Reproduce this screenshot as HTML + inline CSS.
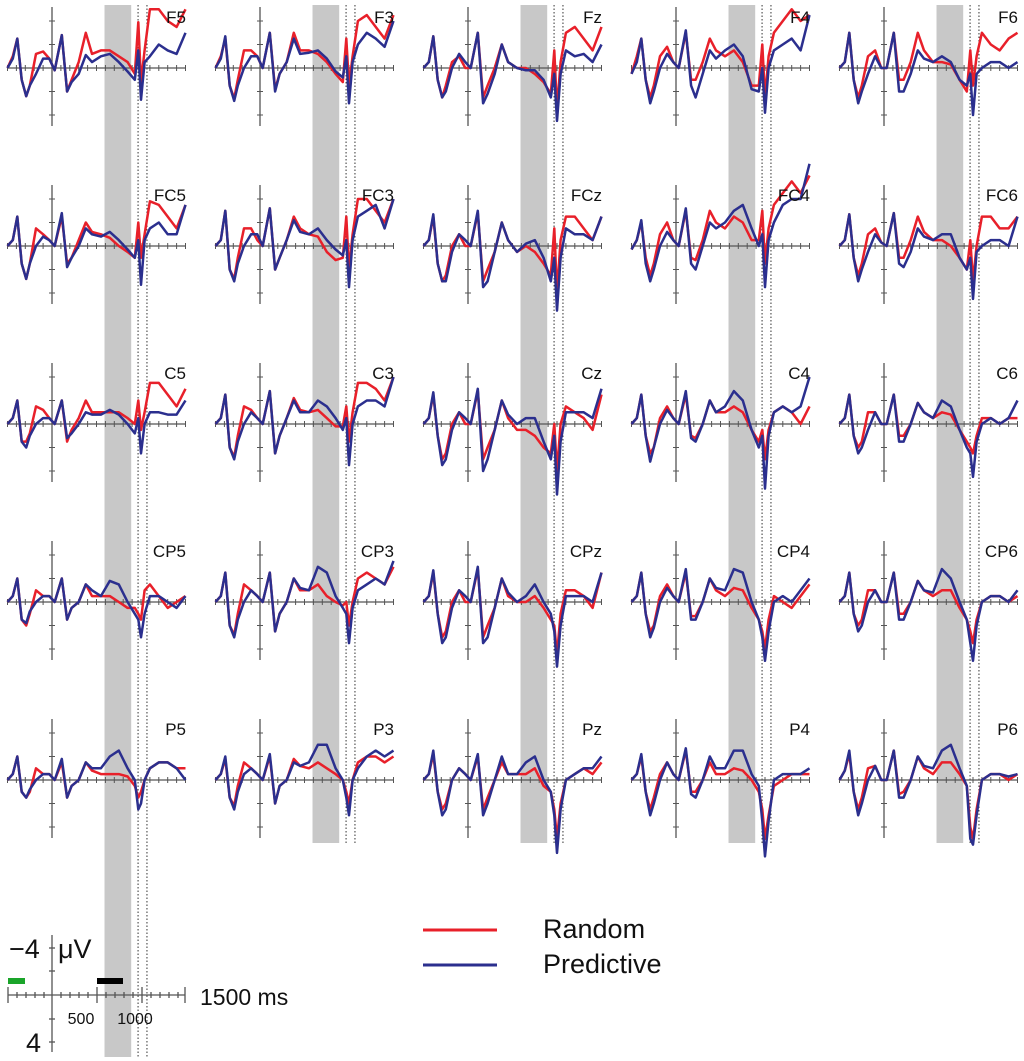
<!DOCTYPE html>
<html><head><meta charset="utf-8"><style>
html,body{margin:0;padding:0;background:#fff}
svg{display:block;font-family:"Liberation Sans",sans-serif}
</style></head><body>
<svg id="chart" width="1024" height="1061" viewBox="0 0 1024 1061" xmlns="http://www.w3.org/2000/svg"></svg>
<script>
const times=[-500,-440,-390,-340,-290,-250,-180,-100,-30,30,110,170,220,300,380,450,550,650,750,850,930,970,1000,1040,1100,1200,1300,1400,1500];
const channels=[["F5","F3","Fz","F4","F6"],["FC5","FC3","FCz","FC4","FC6"],["C5","C3","Cz","C4","C6"],["CP5","CP3","CPz","CP4","CP6"],["P5","P3","Pz","P4","P6"]];
const randomF5=[0,-1,-2.5,1,2.4,1.5,-1.2,-1.4,-0.8,0.2,-2.8,2,1,-0.5,-3,-1.2,-1.5,-1.5,-1,-0.5,0.5,-3.9,1.2,-1.5,-5,-5,-4,-3.5,-5];
const predictiveF5=[0,-0.8,-2.5,1,2.4,1.5,0.5,-0.8,-0.8,0.2,-2.8,2,1.2,0.5,-1.1,-0.5,-1,-1.2,-0.5,0.3,1,-1.5,2.7,-0.5,-1,-2,-1.5,-1.2,-3];
const randomF3=[0,-1,-2.5,1.5,2.6,1,-1.5,-1.5,-1,0,-3,1.8,0.5,-0.5,-3,-1.5,-1.5,-1.2,-0.5,0.5,1.2,-2.5,1.5,-1,-4,-4.5,-3.5,-2.5,-4.5];
const predictiveF3=[0,-0.8,-2.7,1.5,2.8,1.5,0,-1,-1,0,-3,2,0.5,-0.5,-2.5,-1.2,-1.3,-1.5,-0.8,0.3,0.8,-1,3,-0.5,-2,-3,-2.5,-1.8,-4];
const randomFz=[0,-0.5,-2.7,1,2.5,1.5,-0.5,-1,0,0,-3,2.5,1.5,0,-2,-0.5,0,0,0.5,1.2,2.2,-1.5,3.5,-0.5,-3,-3.5,-2.5,-1.5,-3.5];
const predictiveFz=[0,-0.5,-2.7,1,2.5,2,0,-1.2,-0.5,0,-3,3,2.2,0.5,-2,-0.5,0,0.2,0.2,1,2.5,0.5,4.5,0.5,-1.5,-1,-1.2,-0.5,-2];
const randomF4=[0.5,-1,-2.5,1,2.5,1.5,-1,-1.8,-0.5,0,-3,1,1,-0.5,-2.5,-1.5,-1,-1.5,-0.5,1.5,1.5,-2,2.5,-1,-3,-4,-5,-4,-4.5];
const predictiveF4=[0.5,-0.5,-2.5,1,3,2,0,-1.2,-0.5,0,-3.2,1.5,2.5,0.5,-1.5,-0.8,-1.5,-2,-1,1.8,2,0,3.8,0,-1.5,-2,-2.5,-1.5,-4.5];
const randomF6=[0,-0.5,-3,1,2.5,1.5,-1,-1.5,0,0,-3,1,1,-0.5,-3,-1.5,-0.5,-0.5,-0.3,1,2,-1.5,1.5,-1,-3,-2,-1.5,-2.5,-3];
const predictiveF6=[0,-0.5,-3,1,3,2,0.5,-1,0,0,-3,2,2,0.5,-1.5,-0.8,-0.5,-1,-0.5,1,1.5,0.5,4,0.5,0,-0.5,-0.5,0,-0.5];
const randomFC5=[0,-0.5,-2.5,1.5,2.8,1.5,-1.5,-1,-0.5,0,-2.5,1.5,1,-0.5,-2,-1.2,-1,-0.7,0,0.5,1,-2,1,-1,-3.8,-3.5,-2.5,-1.5,-3.5];
const predictiveFC5=[0,-0.5,-2.5,1.5,2.8,1.5,0,-0.8,-0.5,0,-2.8,1.8,1,0,-1.5,-1,-0.8,-1.2,-0.5,0.3,1,-0.5,3.3,-0.5,-1.5,-2,-1,-1,-3.5];
const randomFC3=[0,-0.5,-3,2,2.8,1,-1.5,-1.5,-0.5,0,-3.2,2,1,-0.5,-2.5,-1.5,-1,-0.8,0.5,1.2,1,-2.5,2,-1,-4,-4,-3,-2,-4];
const predictiveFC3=[0,-0.5,-3,2,3,1.5,0,-1,-1,0,-3.2,2,1,-0.5,-2.2,-1.2,-1,-1.5,-0.5,0.3,0.8,-0.5,3.5,-0.5,-2.5,-3,-3.5,-1.5,-4];
const randomFCz=[0,-0.5,-2.5,1.5,3,2.5,0,-1,0,0,-2.8,3,2,0.5,-2,-0.5,0.5,0,0.5,1.5,2.5,-1.5,4,-0.5,-2.5,-2.5,-1.5,-0.5,-2.5];
const predictiveFCz=[0,-0.5,-2.7,1.5,3,3,0.5,-1,-0.5,0,-3,3.5,3,0.5,-2,-0.5,0.5,-0.2,-0.5,1,3,1,5.5,1,-1.5,-1,-1,-0.5,-2.5];
const randomFC4=[0.3,-0.5,-2,1,2.5,1.5,-1,-2,-0.5,0,-3,1,1.2,-0.5,-3,-2,-1.5,-2.5,-2,-0.5,-0.5,-3,1.5,-1.5,-3.5,-4.5,-5.5,-4.5,-6];
const predictiveFC4=[0.3,-0.5,-2.2,1.5,3,2,0,-1.2,-0.5,0,-3.2,1.5,2,0,-2,-1.5,-2,-3,-3.5,-1.5,0,-1,3.5,-0.5,-2,-3.5,-4,-4,-7];
const randomFC6=[0,-0.5,-2.7,1,2.5,1.5,-1,-1.5,-0.3,0,-2.8,1,1,-0.5,-2.5,-1.2,-0.5,-0.5,0,1,2,-0.5,3,0,-2.5,-2.5,-1.5,-1.5,-2.5];
const predictiveFC6=[0,-0.5,-2.7,1,3,2,0.5,-1,-0.3,0,-2.8,1.5,1.8,0.5,-1.5,-0.8,-0.5,-1,-1,1,2,1,4.5,0.5,0,-0.5,-0.5,0,-2.5];
const randomC5=[0,-0.5,-2,1.5,1.5,0.8,-1.5,-1.2,-0.5,0,-2,1.5,0.5,-0.5,-2,-1,-1,-1,-1,-0.5,0,-2,0.5,-1,-3.5,-3.5,-2.5,-1.5,-3];
const predictiveC5=[0,-0.5,-2,1.5,2,1,0,-0.5,-0.5,0,-2,1.2,0.8,0,-1,-0.8,-0.8,-1.2,-0.8,0,0.8,-0.5,2.5,0,-1,-1,-0.8,-0.8,-2];
const randomC3=[0,-0.5,-2.5,2,2.8,1,-1.5,-1.2,-0.5,0,-2.8,2.5,1,-0.5,-2.2,-1.2,-1,-1.2,-0.5,0.2,0.2,-1.5,1.5,-1,-3.5,-3.5,-3,-2,-4];
const predictiveC3=[0,-0.5,-2.5,2,3,1.5,0,-1,-0.5,0,-2.8,2.5,1,-0.5,-2,-1,-1,-2,-1.5,-0.5,0.5,-0.5,3.5,0,-1.5,-2,-2,-1.5,-4];
const randomCz=[0,-0.5,-2.5,1,3,2.5,0,-1,0,0,-2.8,3,2,0.5,-2,-0.5,0.5,0.5,1,2,2.5,0,4,0,-1.5,-1,-0.5,0.5,-2.5];
const predictiveCz=[0,-0.5,-2.7,1,3.5,3,0.5,-1,-0.5,0,-3,4,3,0.5,-2,-0.8,0,-0.5,-0.5,1.5,3,1,6,1.5,-1,-1,-1,-0.5,-3];
const randomC4=[0,-0.5,-2.5,1,2.5,2,-0.5,-1.5,-0.5,0,-2.5,1,1.2,0,-2,-1,-1,-1.5,-1,0.5,1.5,0.5,3,0.5,-1,-1.5,-1,0,-1.5];
const predictiveC4=[0,-0.5,-2.5,1,3.2,2,0,-1.2,-0.5,0,-2.8,1.2,1.5,0,-2,-1,-1.5,-2.8,-2,0.5,2,1,5.5,1,-1,-1.5,-1,-1.5,-4];
const randomC6=[0,-0.5,-2.5,1,2,1.5,-1,-1,0,0,-2.5,1,1,0,-1.8,-1,-0.5,-1,-0.8,0.5,1.5,2,2.5,1,-0.5,-0.5,0,-0.5,-0.5];
const predictiveC6=[0,-0.5,-2.5,1,2.5,2,0.5,-1,0,0,-2.5,1.5,1.5,0,-1.8,-1,-0.5,-2,-1.5,0.5,2,2.5,4.5,1.5,0,-0.5,0,-0.5,-2];
const randomCP5=[0,-0.5,-2,1.5,2,1,-1,-0.5,-0.5,0,-2,1.5,0.5,0,-1.5,-0.5,-0.5,-0.5,0,0.5,0.5,1,1.5,-1,-1.5,-0.5,0.5,0,-0.5];
const predictiveCP5=[0,-0.5,-2,1.5,1.8,0.8,0,-0.5,-0.5,0,-2,1.5,0.5,0,-1.5,-1,-0.5,-1.8,-1.5,0,1,1.5,3,1,-0.5,-0.5,0,0.5,-0.5];
const randomCP3=[0,-0.5,-2.5,2,2.8,1,-1.5,-1,-0.5,0,-2.5,2.5,1,0,-2,-1,-1,-1.5,-0.5,0,0.3,0,2,0,-2,-2.5,-2,-1.5,-3];
const predictiveCP3=[0,-0.5,-2.5,2,3,1.5,0,-1,-0.5,0,-2.5,2.5,1,0,-2,-1.2,-1,-3,-2.5,-0.5,0.5,1,3.5,0.5,-1,-1.5,-2,-1.5,-3.5];
const randomCPz=[0,-0.5,-2.5,1,3,2.5,0,-1,0,0,-2.8,3,2,0.5,-2,-0.5,0,0,-0.5,0.5,1.5,2,4.5,1,-1,-1,-0.5,0.5,-2.5];
const predictiveCPz=[0,-0.5,-2.7,1,3.5,3,0.5,-1,-0.5,0,-3,3.5,3,0.5,-2,-0.8,0,-0.5,-1.5,0,1,2.5,5.5,2,-0.5,-0.5,-0.5,0,-2.5];
const randomCP4=[0,-0.5,-2.5,1,2.5,2,-0.5,-1.5,-0.5,0,-2.5,1.2,1.2,0,-2,-1,-0.5,-1.2,-1,0.5,1.5,2.5,4,1.5,-0.5,0,0.5,-0.5,-1.5];
const predictiveCP4=[0,-0.5,-2.5,1,3,2.2,0,-1.2,-0.5,0,-2.8,1.5,1.5,0,-2,-1.2,-1,-2.8,-2.5,0,1.5,3,5,2.5,0,-0.5,0,-1,-2];
const randomCP6=[0,-0.5,-2.5,1,2,1.5,-1,-1,0,0,-2.5,1,1,0,-1.8,-1,-0.5,-1,-1,0.5,1.5,2.5,3.5,1.5,0,-0.5,-0.5,0,-0.5];
const predictiveCP6=[0,-0.5,-2.5,1,2.5,2,0,-1,0,0,-2.5,1.5,1.5,0,-1.8,-1,-0.8,-2.8,-2,0,1.5,3.5,5,2,0,-0.5,-0.5,0,-1];
const randomP5=[0,-0.5,-2,1,1.5,1,-1,-0.5,-0.5,0,-1.5,1.5,0.5,0,-1.5,-0.8,-0.5,-0.5,-0.5,-0.3,0.5,1.5,1,0,-1,-1.5,-1.5,-1,-1];
const predictiveP5=[0,-0.5,-2,1,1.5,0.8,0,-0.5,-0.5,0,-1.8,1.5,0.5,0,-1.5,-1,-1,-2,-2.5,-1,0,2.5,2,0,-1,-1.5,-1.5,-1,0];
const randomP3=[0,-0.5,-1.8,1.5,2.2,0.5,-1.5,-1,-0.5,0,-2,2,0.5,0,-1.8,-1.2,-1,-1.5,-1,-0.5,0,1,2,0,-1.5,-2,-2,-1.5,-2];
const predictiveP3=[0,-0.5,-2,1.5,2.5,1,-0.5,-1,-0.5,0,-2.2,2,0.5,0,-1.5,-1.2,-1.5,-3,-3,-1,0,1.5,3,0,-1,-2,-2.5,-2,-2.5];
const randomPz=[0,-0.5,-2.2,1,2.5,2,0,-1,-0.5,0,-2,2.5,1.5,0,-1.5,-0.5,-0.5,-0.5,-1,0.5,1,2.5,5,2,0,-0.5,-1,-0.5,-1.5];
const predictivePz=[0,-0.5,-2.5,1,3,2.5,0,-1,-0.5,0,-2.2,3,2,0,-2,-0.5,-0.5,-1.5,-2,0,1,3,6.2,2.5,0,-0.5,-1,-1,-2];
const randomP4=[0,-0.5,-2,1,2.5,1.5,-0.5,-1.5,-0.5,0,-2.5,1,1,0,-1.5,-0.5,-0.5,-1,-0.8,0,1,2.5,5,3,0.5,0,-0.5,-0.5,-0.5];
const predictiveP4=[0,-0.5,-2.2,1,3,2,0,-1.5,-0.5,0,-2.7,1.2,1.5,0,-2,-1,-1,-2.5,-2.5,-0.5,0.5,3.5,6.5,3.5,0,-0.5,-0.5,-0.5,-1];
const randomP6=[0,-0.8,-2.2,1,2.5,1.5,-1,-1.2,0,0,-2.5,1.2,1,0,-2,-1,-0.5,-1.5,-1.5,-0.5,0.5,4,5,2.5,0,-0.5,-0.5,0,-0.5];
const predictiveP6=[0,-0.8,-2.5,1,3,2,0,-1.2,0,0,-2.5,1.5,1.5,0,-2,-1.2,-1,-2.5,-3,-1,0.5,5,5.5,3,0,-0.5,-0.5,-0.3,-0.5];
const randomSeries={F5:randomF5,F3:randomF3,Fz:randomFz,F4:randomF4,F6:randomF6,FC5:randomFC5,FC3:randomFC3,FCz:randomFCz,FC4:randomFC4,FC6:randomFC6,C5:randomC5,C3:randomC3,Cz:randomCz,C4:randomC4,C6:randomC6,CP5:randomCP5,CP3:randomCP3,CPz:randomCPz,CP4:randomCP4,CP6:randomCP6,P5:randomP5,P3:randomP3,Pz:randomPz,P4:randomP4,P6:randomP6};
const predictiveSeries={F5:predictiveF5,F3:predictiveF3,Fz:predictiveFz,F4:predictiveF4,F6:predictiveF6,FC5:predictiveFC5,FC3:predictiveFC3,FCz:predictiveFCz,FC4:predictiveFC4,FC6:predictiveFC6,C5:predictiveC5,C3:predictiveC3,Cz:predictiveCz,C4:predictiveC4,C6:predictiveC6,CP5:predictiveCP5,CP3:predictiveCP3,CPz:predictiveCPz,CP4:predictiveCP4,CP6:predictiveCP6,P5:predictiveP5,P3:predictiveP3,Pz:predictivePz,P4:predictiveP4,P6:predictiveP6};
const bandMs=[590,890];
const eventMs=[967,1067];
const xTicksMs=[-500,-400,-300,-200,-100,0,100,200,300,400,500,600,700,800,900,1000,1100,1200,1300,1400,1500];
const yTicksUv=[-4,-2,2,4];

const NS="http://www.w3.org/2000/svg";
const svg=document.getElementById('chart');
const colAxis=[52,260,468,676,884];
const rowBase=[68,246,424,602,780];
const pxPerMs=0.089, pxPerUv=11.75;
function xs(ax,t){return ax+t*pxPerMs;}
function ys(base,v){return base+v*pxPerUv;}
function mk(tag,attrs,parent){const e=document.createElementNS(NS,tag);for(const k in attrs)e.setAttribute(k,attrs[k]);(parent||svg).appendChild(e);return e;}

colAxis.forEach((ax,c)=>{
  const bottom=c===0?1057:843;
  const band=mk('rect',{x:xs(ax,bandMs[0]),y:5,width:xs(ax,bandMs[1])-xs(ax,bandMs[0]),height:bottom-5,fill:'#c8c8c8'});
  
  
  eventMs.forEach(t=>{
    const l=mk('line',{x1:xs(ax,t),x2:xs(ax,t),y1:5,y2:bottom,stroke:'#333','stroke-width':1,'stroke-dasharray':'1.5,2'});
    
    
  });
});

channels.forEach((row,r)=>{
  row.forEach((ch,c)=>{
    const ax=colAxis[c], base=rowBase[r];
    const g=mk('g',{});
    
    
    mk('line',{x1:xs(ax,-500),x2:xs(ax,1500),y1:base,y2:base,stroke:'#555','stroke-width':1.3},g);
    mk('line',{x1:ax,x2:ax,y1:base-61,y2:base+58,stroke:'#555','stroke-width':1.3},g);
    xTicksMs.forEach(t=>{mk('line',{x1:xs(ax,t),x2:xs(ax,t),y1:base-3,y2:base+3,stroke:'#555','stroke-width':1},g);});
    yTicksUv.forEach(v=>{mk('line',{x1:ax-3,x2:ax+3,y1:ys(base,v),y2:ys(base,v),stroke:'#555','stroke-width':1},g);});
    [[randomSeries[ch],'#e8202a','random'],[predictiveSeries[ch],'#2b2f8e','predictive']].forEach(([vals,col,nm])=>{
      const pts=vals.map((v,i)=>xs(ax,times[i]).toFixed(1)+','+ys(base,v).toFixed(1)).join(' ');
      const pl=mk('polyline',{points:pts,fill:'none',stroke:col,'stroke-width':2.5,'stroke-linejoin':'round'},g);
      
      
    });
    const tx=mk('text',{x:ax+134,y:base-45,'text-anchor':'end','font-size':17,fill:'#111'},g);
    tx.textContent=ch;
    
    
  });
});
</script>
<svg width="1024" height="1061" style="position:absolute;left:0;top:0" xmlns="http://www.w3.org/2000/svg" font-family="Liberation Sans, sans-serif">
  <g stroke="#555" stroke-width="1.3">
    <line x1="8" x2="185" y1="995" y2="995"/>
    <line x1="52" x2="52" y1="935" y2="1052"/>
    <line x1="49" x2="55" y1="948" y2="948"/><line x1="49" x2="55" y1="971" y2="971"/>
    <line x1="49" x2="55" y1="1019" y2="1019"/><line x1="49" x2="55" y1="1042" y2="1042"/>
    <line x1="8" x2="8" y1="987" y2="1003"/><line x1="97" x2="97" y1="987" y2="1003"/>
    <line x1="142" x2="142" y1="987" y2="1003"/><line x1="185" x2="185" y1="987" y2="1003"/>
    <line x1="17" x2="17" y1="992" y2="998"/><line x1="26" x2="26" y1="992" y2="998"/><line x1="35" x2="35" y1="992" y2="998"/><line x1="44" x2="44" y1="992" y2="998"/>
    <line x1="61" x2="61" y1="992" y2="998"/><line x1="70" x2="70" y1="992" y2="998"/><line x1="79" x2="79" y1="992" y2="998"/><line x1="88" x2="88" y1="992" y2="998"/>
    <line x1="106" x2="106" y1="992" y2="998"/><line x1="115" x2="115" y1="992" y2="998"/><line x1="124" x2="124" y1="992" y2="998"/><line x1="133" x2="133" y1="992" y2="998"/>
    <line x1="151" x2="151" y1="992" y2="998"/><line x1="160" x2="160" y1="992" y2="998"/><line x1="169" x2="169" y1="992" y2="998"/><line x1="178" x2="178" y1="992" y2="998"/>
  </g>
  <rect x="8" y="978" width="17" height="6" fill="#1aa52a"/>
  <rect x="97" y="978" width="26" height="6" fill="#000"/>
  <text x="9" y="958" font-size="27" fill="#111">−4</text>
  <text x="58" y="958" font-size="27" fill="#111">μV</text>
  <text x="26" y="1052" font-size="27" fill="#111">4</text>
  <text x="81" y="1024" font-size="16" text-anchor="middle" fill="#111">500</text>
  <text x="135" y="1024" font-size="16" text-anchor="middle" fill="#111">1000</text>
  <text x="200" y="1005" font-size="23" fill="#111">1500 ms</text>
  <g>
    <line x1="423" x2="497" y1="930" y2="930" stroke="#e8202a" stroke-width="3"/>
    <text x="543" y="938" font-size="27" fill="#111">Random</text>
    <line x1="423" x2="497" y1="965" y2="965" stroke="#2b2f8e" stroke-width="3"/>
    <text x="543" y="973" font-size="27" fill="#111">Predictive</text>
  </g>
</svg>
</body></html>
